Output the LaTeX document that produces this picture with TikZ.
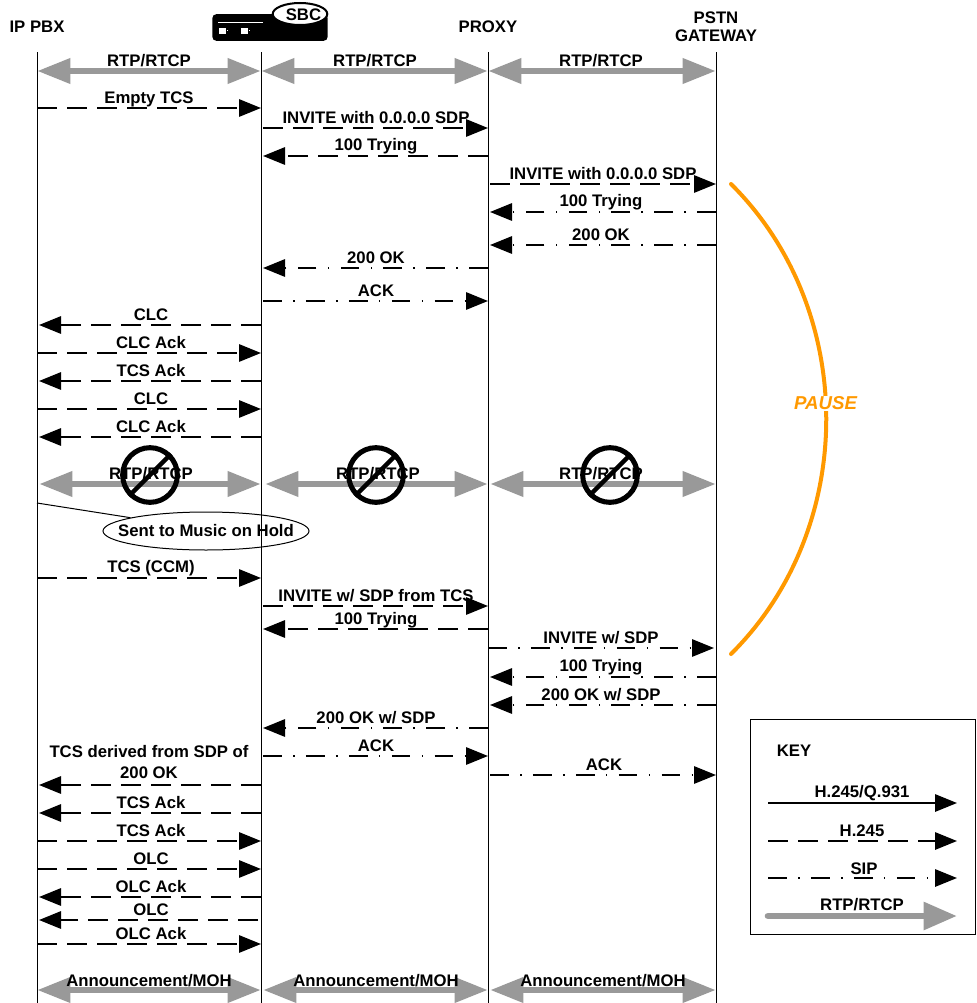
\documentclass[tikz,border=0pt]{standalone}
\usepackage{fontspec}
\setmainfont{Liberation Sans}
\usetikzlibrary{arrows.meta,shapes.geometric}
\definecolor{rtpgray}{HTML}{999999}
\definecolor{pauseorange}{HTML}{FF9900}
\tikzset{
  x=0.75pt,y=-0.75pt,
  lifeline/.style={draw=black,line width=0.75pt},
  lbl/.style={font=\fontsize{12.55}{14}\selectfont\bfseries,inner sep=0pt,text=black,yshift=-0.75pt},
  h245/.style={draw=black,line width=1.5pt,dash pattern=on 15pt off 7.5pt,-{Triangle[length=16.5pt,width=13pt]}},
  sip/.style={draw=black,line width=1.5pt,dash pattern=on 14pt off 8.5pt on 1.2pt off 8.5pt,-{Triangle[length=16.5pt,width=13pt]}},
  solidmsg/.style={draw=black,line width=1.5pt,-{Triangle[length=16.5pt,width=13pt]}},
  rtp/.style={draw=rtpgray,line width=5pt,{Triangle[length=25pt,width=18pt]}-{Triangle[length=25pt,width=18pt]}},
  rtpkey/.style={draw=rtpgray,line width=5pt,line cap=round,-{Triangle[length=25pt,width=20pt]}},
  nosign/.style={circle,draw=black,line width=3.8pt,minimum size=41pt,inner sep=0pt},
}
% id, style, x1, x2, y, label, label x, label y
\newcommand{\msgline}[8]{%
  \coordinate (#1s) at (#3,#5);
  \coordinate (#1e) at (#4,#5);
  \draw[#2] (#1s) -- (#1e);
  \node[lbl] (#1t) at (#7,#8) {#6};
}
\begin{document}
\begin{tikzpicture}
\useasboundingbox (0,0) rectangle (976,1003);
% lifelines
\foreach \n/\xx in {pbx/37,sbc/261,proxy/488,gw/716}{
  \coordinate (\n top) at (\xx,52);
  \coordinate (\n bot) at (\xx,1003);
  \draw[lifeline] (\n top) -- (\n bot);
}
% headers
\node[lbl] (hpbx) at (37,26) {IP PBX};
\node[lbl] (hproxy) at (488,26) {PROXY};
\node[lbl,align=center] (hgw) at (716,26) {PSTN\\[-0.75pt]GATEWAY};
% SBC icon
\node[fill=black,rounded corners=3pt,minimum width=86.5pt,minimum height=20pt,inner sep=0pt] (sbcbody) at (270,27.5) {};
\draw[white,line width=1pt] (218,22.7) -- (263,22.7);
\fill[white] (219,28) rectangle (226,34);
\fill[white] (241,28) rectangle (248,34);
\fill[white] (227,29.5) rectangle (228,30.5);
\fill[white] (249,29.5) rectangle (250,30.5);
\node[ellipse,draw=black,fill=white,line width=1.5pt,minimum width=41pt,minimum height=16.5pt,inner sep=0pt] (sbcell) at (300,14) {};
\node[lbl] (sbctxt) at (303.5,13.5) {SBC};
% RTP top
\msgline{r1}{rtp}{37}{261}{71}{RTP/RTCP}{149}{60}
\msgline{r2}{rtp}{261}{488}{71}{RTP/RTCP}{375}{60}
\msgline{r3}{rtp}{488}{716}{71}{RTP/RTCP}{601}{60}
% messages
\msgline{a1}{h245}{37}{261}{108}{Empty TCS}{149}{98}
\msgline{a2}{h245}{263}{488}{128}{INVITE with 0.0.0.0 SDP}{376}{117}
\msgline{a3}{h245}{488}{263}{156}{100 Trying}{376}{145}
\msgline{a4}{h245}{490}{716}{184}{INVITE with 0.0.0.0 SDP}{603}{173}
\msgline{a5}{sip}{716}{490}{212}{100 Trying}{601}{201}
\msgline{a6}{sip}{716}{490}{245}{200 OK}{601}{234}
\msgline{a7}{sip}{488}{263}{268}{200 OK}{376}{257}
\msgline{a8}{sip}{263}{488}{301}{ACK}{376}{290}
\msgline{a9}{h245}{261}{39}{325}{CLC}{151}{314}
\msgline{a10}{h245}{37}{261}{353}{CLC Ack}{151}{342}
\msgline{a11}{h245}{261}{39}{381}{TCS Ack}{151}{370}
\msgline{a12}{h245}{37}{261}{409}{CLC}{151}{398}
\msgline{a13}{h245}{261}{39}{437}{CLC Ack}{151}{426}
% stopped RTP
\msgline{p1}{rtp}{39}{261}{484}{RTP/RTCP}{151}{473}
\msgline{p2}{rtp}{265}{488}{484}{RTP/RTCP}{378}{473}
\msgline{p3}{rtp}{490}{716}{484}{RTP/RTCP}{601}{473}
\foreach \n/\xx in {n1/150,n2/376,n3/610}{
  \node[nosign] (\n) at (\xx,475) {};
  \draw[black,line width=3.2pt] (\n.225) -- (\n.45);
}
% music on hold
\coordinate (mohstart) at (37,503);
\node[ellipse,draw=black,line width=0.75pt,minimum width=154.5pt,minimum height=28.5pt,inner sep=0pt] (moh) at (206,531) {};
\node[lbl] (mohtxt) at (206,530) {Sent to Music on Hold};
\draw[lifeline] (mohstart) -- (moh.170);
% second part
\msgline{b1}{h245}{37}{261}{578}{TCS (CCM)}{151}{567}
\msgline{b2}{h245}{263}{488}{606}{INVITE w/ SDP from TCS}{376}{595}
\msgline{b3}{h245}{488}{263}{629}{100 Trying}{376}{619}
\msgline{b4}{sip}{488}{714}{648}{INVITE w/ SDP}{601}{637}
\msgline{b5}{sip}{716}{490}{677}{100 Trying}{601}{666}
\msgline{b6}{sip}{716}{490}{705}{200 OK w/ SDP}{601}{694}
\msgline{b7}{sip}{488}{263}{728}{200 OK w/ SDP}{376}{717}
\msgline{b8}{sip}{263}{488}{756}{ACK}{376}{745}
\msgline{b9}{sip}{490}{716}{775}{ACK}{604}{764}
\msgline{c1}{h245}{261}{39}{785}{\begin{tabular}{@{}c@{}}TCS derived from SDP of\\[1.5pt]200 OK\end{tabular}}{149}{763.5}
\msgline{c2}{h245}{261}{39}{813}{TCS Ack}{151}{802}
\msgline{c3}{h245}{37}{261}{841}{TCS Ack}{151}{830}
\msgline{c4}{h245}{37}{261}{869}{OLC}{151}{858}
\msgline{c5}{h245}{261}{39}{897}{OLC Ack}{151}{886}
\msgline{c6}{h245}{258}{39}{920}{OLC}{151}{909}
\msgline{c7}{h245}{37}{261}{944}{OLC Ack}{151}{933}
% announcement
\msgline{d1}{rtp}{37}{261}{990}{Announcement/MOH}{149}{980}
\msgline{d2}{rtp}{263}{488}{990}{Announcement/MOH}{376}{980}
\msgline{d3}{rtp}{490}{716}{990}{Announcement/MOH}{603}{980}
% pause arc
\coordinate (ps) at (731,184);
\coordinate (pe) at (731,654);
\draw[pauseorange,line width=3pt,line cap=round] (ps) .. controls (858,310) and (858,528) .. (pe);
\node[font=\fontsize{14}{16}\selectfont\bfseries\itshape,text=pauseorange,fill=white,inner sep=1pt] (pause) at (825.5,403.5) {PAUSE};
% key
\node[draw=black,line width=0.75pt,minimum width=168.75pt,minimum height=161.25pt,inner sep=0pt] (keybox) at (862.5,826.5) {};
\node[lbl] (keytxt) at (794,750) {KEY};
\msgline{k1}{solidmsg}{768}{957}{803}{H.245/Q.931}{862}{792}
\msgline{k2}{h245}{768}{957}{841}{H.245}{862}{830}
\msgline{k3}{sip}{768}{957}{878}{SIP}{864}{868}
\msgline{k4}{rtpkey}{768}{957}{916}{RTP/RTCP}{862}{904}
\end{tikzpicture}
\end{document}
